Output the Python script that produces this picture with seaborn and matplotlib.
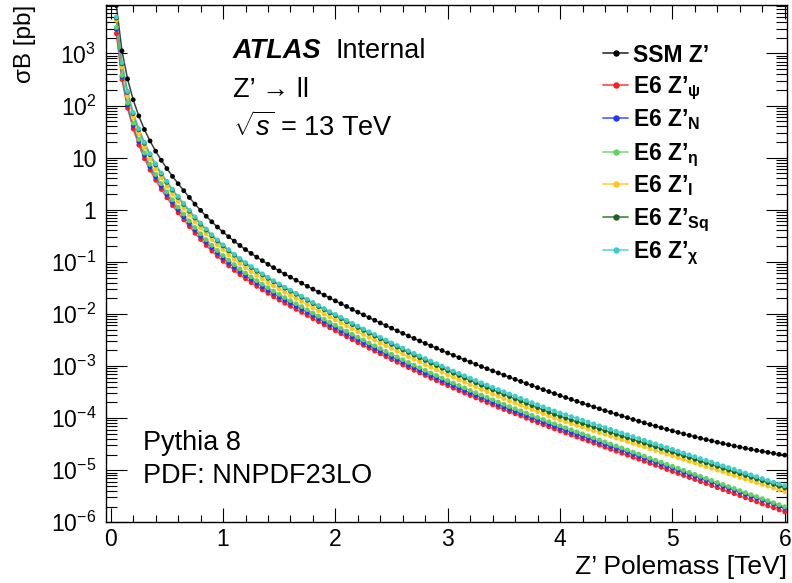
import matplotlib
matplotlib.use("Agg")
import matplotlib.pyplot as plt
import pandas as pd
import seaborn as sns
from matplotlib.lines import Line2D
from matplotlib.ticker import FixedLocator, MultipleLocator, LogLocator, NullFormatter

# Z' pole mass grid [TeV]
mass_tev = [
    0.05, 0.10, 0.15, 0.20, 0.25, 0.30, 0.35, 0.40, 0.45, 0.50,
    0.55, 0.60, 0.65, 0.70, 0.75, 0.80, 0.85, 0.90, 0.95, 1.00,
    1.05, 1.10, 1.15, 1.20, 1.25, 1.30, 1.35, 1.40, 1.45, 1.50,
    1.55, 1.60, 1.65, 1.70, 1.75, 1.80, 1.85, 1.90, 1.95, 2.00,
    2.05, 2.10, 2.15, 2.20, 2.25, 2.30, 2.35, 2.40, 2.45, 2.50,
    2.55, 2.60, 2.65, 2.70, 2.75, 2.80, 2.85, 2.90, 2.95, 3.00,
    3.05, 3.10, 3.15, 3.20, 3.25, 3.30, 3.35, 3.40, 3.45, 3.50,
    3.55, 3.60, 3.65, 3.70, 3.75, 3.80, 3.85, 3.90, 3.95, 4.00,
    4.05, 4.10, 4.15, 4.20, 4.25, 4.30, 4.35, 4.40, 4.45, 4.50,
    4.55, 4.60, 4.65, 4.70, 4.75, 4.80, 4.85, 4.90, 4.95, 5.00,
    5.05, 5.10, 5.15, 5.20, 5.25, 5.30, 5.35, 5.40, 5.45, 5.50,
    5.55, 5.60, 5.65, 5.70, 5.75, 5.80, 5.85, 5.90, 5.95, 6.00,
]

# sigma x B(Z' -> ll) [pb]
sigma_ssm = [
    8.32e3, 1.12e3, 324, 129, 63.1, 34.7, 20.9, 13.3, 8.91, 6.17,
    4.37, 3.16, 2.32, 1.72, 1.28, 0.973, 0.750, 0.586, 0.465, 0.373,
    0.303, 0.249, 0.206, 0.172, 0.145, 0.123, 0.105, 0.0897, 0.0773, 0.0668,
    0.0581, 0.0507, 0.0444, 0.0389, 0.0340, 0.0299, 0.0262, 0.0230, 0.0202, 0.0178,
    0.0157, 0.0139, 0.0122, 0.0108, 9.59e-3, 8.51e-3, 7.55e-3, 6.71e-3, 5.97e-3, 5.32e-3,
    4.74e-3, 4.24e-3, 3.78e-3, 3.39e-3, 3.03e-3, 2.72e-3, 2.44e-3, 2.20e-3, 1.98e-3, 1.78e-3,
    1.61e-3, 1.45e-3, 1.31e-3, 1.19e-3, 1.08e-3, 9.77e-4, 8.87e-4, 8.07e-4, 7.35e-4, 6.68e-4,
    6.08e-4, 5.55e-4, 5.06e-4, 4.61e-4, 4.22e-4, 3.85e-4, 3.52e-4, 3.23e-4, 2.96e-4, 2.71e-4,
    2.49e-4, 2.29e-4, 2.10e-4, 1.93e-4, 1.78e-4, 1.64e-4, 1.51e-4, 1.39e-4, 1.29e-4, 1.19e-4,
    1.10e-4, 1.02e-4, 9.42e-5, 8.73e-5, 8.11e-5, 7.53e-5, 7.02e-5, 6.53e-5, 6.10e-5, 5.69e-5,
    5.32e-5, 4.98e-5, 4.67e-5, 4.38e-5, 4.11e-5, 3.87e-5, 3.65e-5, 3.44e-5, 3.26e-5, 3.08e-5,
    2.92e-5, 2.78e-5, 2.64e-5, 2.52e-5, 2.40e-5, 2.30e-5, 2.20e-5, 2.11e-5, 2.02e-5, 1.95e-5,
]

sigma_psi = [
    2.40e3, 316, 88.9, 35.5, 17.4, 9.54, 5.77, 3.68, 2.45, 1.70,
    1.20, 0.869, 0.639, 0.473, 0.353, 0.268, 0.206, 0.161, 0.128, 0.102,
    0.0838, 0.0685, 0.0568, 0.0474, 0.0399, 0.0338, 0.0289, 0.0248, 0.0213, 0.0184,
    0.0160, 0.0140, 0.0122, 0.0107, 9.32e-3, 8.09e-3, 7.08e-3, 6.19e-3, 5.40e-3, 4.74e-3,
    4.16e-3, 3.65e-3, 3.20e-3, 2.81e-3, 2.49e-3, 2.19e-3, 1.93e-3, 1.71e-3, 1.51e-3, 1.33e-3,
    1.18e-3, 1.05e-3, 9.29e-4, 8.26e-4, 7.38e-4, 6.57e-4, 5.84e-4, 5.22e-4, 4.66e-4, 4.18e-4,
    3.75e-4, 3.36e-4, 3.02e-4, 2.71e-4, 2.44e-4, 2.20e-4, 1.99e-4, 1.79e-4, 1.61e-4, 1.46e-4,
    1.32e-4, 1.21e-4, 1.10e-4, 9.93e-5, 8.97e-5, 8.18e-5, 7.48e-5, 6.79e-5, 6.19e-5, 5.66e-5,
    5.18e-5, 4.73e-5, 4.33e-5, 3.96e-5, 3.62e-5, 3.31e-5, 3.03e-5, 2.76e-5, 2.52e-5, 2.31e-5,
    2.12e-5, 1.94e-5, 1.77e-5, 1.62e-5, 1.48e-5, 1.35e-5, 1.24e-5, 1.14e-5, 1.03e-5, 9.45e-6,
    8.65e-6, 7.90e-6, 7.23e-6, 6.62e-6, 6.05e-6, 5.53e-6, 5.06e-6, 4.62e-6, 4.22e-6, 3.86e-6,
    3.54e-6, 3.23e-6, 2.95e-6, 2.70e-6, 2.47e-6, 2.25e-6, 2.07e-6, 1.89e-6, 1.73e-6, 1.58e-6,
]

sigma_n = [
    2.88e3, 355, 102, 40.7, 20.0, 11.0, 6.62, 4.22, 2.82, 1.95,
    1.38, 0.998, 0.734, 0.544, 0.405, 0.307, 0.237, 0.185, 0.147, 0.118,
    0.0962, 0.0787, 0.0652, 0.0544, 0.0458, 0.0388, 0.0331, 0.0284, 0.0244, 0.0211,
    0.0184, 0.0160, 0.0140, 0.0123, 0.0107, 9.27e-3, 8.09e-3, 7.06e-3, 6.15e-3, 5.40e-3,
    4.72e-3, 4.14e-3, 3.63e-3, 3.18e-3, 2.81e-3, 2.47e-3, 2.17e-3, 1.92e-3, 1.70e-3, 1.50e-3,
    1.33e-3, 1.18e-3, 1.04e-3, 9.27e-4, 8.29e-4, 7.37e-4, 6.55e-4, 5.85e-4, 5.23e-4, 4.69e-4,
    4.21e-4, 3.77e-4, 3.39e-4, 3.04e-4, 2.74e-4, 2.47e-4, 2.23e-4, 2.00e-4, 1.81e-4, 1.64e-4,
    1.48e-4, 1.35e-4, 1.23e-4, 1.11e-4, 1.01e-4, 9.18e-5, 8.39e-5, 7.62e-5, 6.95e-5, 6.35e-5,
    5.82e-5, 5.32e-5, 4.87e-5, 4.47e-5, 4.09e-5, 3.74e-5, 3.42e-5, 3.13e-5, 2.86e-5, 2.62e-5,
    2.41e-5, 2.21e-5, 2.02e-5, 1.85e-5, 1.69e-5, 1.54e-5, 1.42e-5, 1.30e-5, 1.18e-5, 1.09e-5,
    9.95e-6, 9.09e-6, 8.33e-6, 7.64e-6, 6.99e-6, 6.40e-6, 5.85e-6, 5.35e-6, 4.90e-6, 4.48e-6,
    4.12e-6, 3.76e-6, 3.44e-6, 3.15e-6, 2.89e-6, 2.64e-6, 2.43e-6, 2.22e-6, 2.03e-6, 1.86e-6,
]

sigma_eta = [
    3.16e3, 380, 112, 45.7, 22.4, 12.3, 7.43, 4.74, 3.16, 2.19,
    1.55, 1.12, 0.824, 0.610, 0.455, 0.345, 0.266, 0.208, 0.165, 0.132,
    0.108, 0.0883, 0.0732, 0.0611, 0.0514, 0.0435, 0.0372, 0.0319, 0.0274, 0.0237,
    0.0206, 0.0180, 0.0157, 0.0138, 0.0120, 0.0104, 9.08e-3, 7.92e-3, 6.90e-3, 6.06e-3,
    5.30e-3, 4.65e-3, 4.07e-3, 3.57e-3, 3.15e-3, 2.77e-3, 2.44e-3, 2.16e-3, 1.91e-3, 1.68e-3,
    1.49e-3, 1.32e-3, 1.17e-3, 1.04e-3, 9.30e-4, 8.27e-4, 7.35e-4, 6.57e-4, 5.87e-4, 5.26e-4,
    4.72e-4, 4.23e-4, 3.80e-4, 3.41e-4, 3.07e-4, 2.77e-4, 2.50e-4, 2.25e-4, 2.03e-4, 1.84e-4,
    1.66e-4, 1.52e-4, 1.38e-4, 1.25e-4, 1.13e-4, 1.03e-4, 9.42e-5, 8.55e-5, 7.80e-5, 7.13e-5,
    6.52e-5, 5.96e-5, 5.45e-5, 4.99e-5, 4.56e-5, 4.17e-5, 3.81e-5, 3.48e-5, 3.18e-5, 2.91e-5,
    2.67e-5, 2.44e-5, 2.23e-5, 2.04e-5, 1.86e-5, 1.70e-5, 1.56e-5, 1.43e-5, 1.30e-5, 1.19e-5,
    1.09e-5, 9.95e-6, 9.10e-6, 8.34e-6, 7.62e-6, 6.97e-6, 6.37e-6, 5.82e-6, 5.32e-6, 4.86e-6,
    4.46e-6, 4.07e-6, 3.72e-6, 3.40e-6, 3.11e-6, 2.84e-6, 2.61e-6, 2.38e-6, 2.18e-6, 1.99e-6,
]

sigma_i = [
    4.36e3, 550, 151, 58.9, 28.9, 15.8, 9.57, 6.10, 4.08, 2.82,
    1.99, 1.45, 1.06, 0.786, 0.586, 0.445, 0.343, 0.268, 0.212, 0.170,
    0.136, 0.111, 0.0921, 0.0769, 0.0647, 0.0548, 0.0468, 0.0401, 0.0345, 0.0299,
    0.0260, 0.0226, 0.0198, 0.0174, 0.0151, 0.0131, 0.0115, 0.0100, 8.75e-3, 7.69e-3,
    6.74e-3, 5.91e-3, 5.19e-3, 4.56e-3, 4.02e-3, 3.55e-3, 3.14e-3, 2.77e-3, 2.45e-3, 2.17e-3,
    1.92e-3, 1.70e-3, 1.51e-3, 1.35e-3, 1.20e-3, 1.06e-3, 9.47e-4, 8.46e-4, 7.57e-4, 6.78e-4,
    6.07e-4, 5.44e-4, 4.89e-4, 4.40e-4, 3.95e-4, 3.56e-4, 3.22e-4, 2.90e-4, 2.62e-4, 2.37e-4,
    2.15e-4, 1.95e-4, 1.77e-4, 1.61e-4, 1.46e-4, 1.33e-4, 1.21e-4, 1.10e-4, 1.00e-4, 9.19e-5,
    8.49e-5, 7.83e-5, 7.24e-5, 6.70e-5, 6.18e-5, 5.71e-5, 5.28e-5, 4.88e-5, 4.51e-5, 4.16e-5,
    3.85e-5, 3.56e-5, 3.28e-5, 3.03e-5, 2.81e-5, 2.59e-5, 2.39e-5, 2.21e-5, 2.04e-5, 1.89e-5,
    1.74e-5, 1.61e-5, 1.49e-5, 1.38e-5, 1.27e-5, 1.17e-5, 1.09e-5, 1.00e-5, 9.28e-6, 8.51e-6,
    7.91e-6, 7.31e-6, 6.75e-6, 6.24e-6, 5.77e-6, 5.32e-6, 4.92e-6, 4.55e-6, 4.20e-6, 3.88e-6,
]

sigma_sq = [
    4.78e3, 631, 178, 70.0, 34.3, 18.8, 11.4, 7.25, 4.84, 3.35,
    2.37, 1.72, 1.26, 0.933, 0.696, 0.528, 0.408, 0.318, 0.252, 0.202,
    0.163, 0.134, 0.111, 0.0924, 0.0778, 0.0659, 0.0562, 0.0482, 0.0415, 0.0359,
    0.0312, 0.0272, 0.0238, 0.0209, 0.0182, 0.0158, 0.0138, 0.0121, 0.0105, 9.25e-3,
    8.11e-3, 7.11e-3, 6.24e-3, 5.49e-3, 4.83e-3, 4.26e-3, 3.77e-3, 3.33e-3, 2.95e-3, 2.60e-3,
    2.31e-3, 2.04e-3, 1.82e-3, 1.62e-3, 1.44e-3, 1.28e-3, 1.14e-3, 1.02e-3, 9.09e-4, 8.14e-4,
    7.30e-4, 6.55e-4, 5.88e-4, 5.29e-4, 4.75e-4, 4.28e-4, 3.87e-4, 3.49e-4, 3.15e-4, 2.85e-4,
    2.58e-4, 2.34e-4, 2.12e-4, 1.92e-4, 1.73e-4, 1.58e-4, 1.44e-4, 1.30e-4, 1.18e-4, 1.08e-4,
    9.98e-5, 9.20e-5, 8.51e-5, 7.87e-5, 7.26e-5, 6.71e-5, 6.21e-5, 5.73e-5, 5.30e-5, 4.89e-5,
    4.52e-5, 4.18e-5, 3.85e-5, 3.56e-5, 3.30e-5, 3.04e-5, 2.81e-5, 2.60e-5, 2.40e-5, 2.22e-5,
    2.05e-5, 1.89e-5, 1.75e-5, 1.62e-5, 1.49e-5, 1.38e-5, 1.28e-5, 1.18e-5, 1.09e-5, 1.00e-5,
    9.29e-6, 8.59e-6, 7.93e-6, 7.33e-6, 6.78e-6, 6.25e-6, 5.78e-6, 5.35e-6, 4.93e-6, 4.56e-6,
]

sigma_chi = [
    5.01e3, 661, 186, 73.3, 35.9, 19.7, 11.9, 7.59, 5.07, 3.51,
    2.48, 1.80, 1.32, 0.977, 0.729, 0.553, 0.427, 0.333, 0.264, 0.212,
    0.171, 0.140, 0.116, 0.0968, 0.0815, 0.0690, 0.0589, 0.0505, 0.0435, 0.0376,
    0.0327, 0.0285, 0.0249, 0.0219, 0.0191, 0.0166, 0.0145, 0.0127, 0.0111, 9.77e-3,
    8.57e-3, 7.53e-3, 6.62e-3, 5.83e-3, 5.14e-3, 4.54e-3, 4.02e-3, 3.56e-3, 3.15e-3, 2.79e-3,
    2.48e-3, 2.20e-3, 1.96e-3, 1.75e-3, 1.56e-3, 1.39e-3, 1.24e-3, 1.11e-3, 9.95e-4, 8.93e-4,
    8.02e-4, 7.21e-4, 6.49e-4, 5.85e-4, 5.27e-4, 4.76e-4, 4.31e-4, 3.90e-4, 3.53e-4, 3.20e-4,
    2.90e-4, 2.64e-4, 2.40e-4, 2.18e-4, 1.98e-4, 1.81e-4, 1.65e-4, 1.50e-4, 1.37e-4, 1.25e-4,
    1.16e-4, 1.07e-4, 9.84e-5, 9.08e-5, 8.38e-5, 7.73e-5, 7.13e-5, 6.58e-5, 6.07e-5, 5.60e-5,
    5.18e-5, 4.78e-5, 4.41e-5, 4.06e-5, 3.75e-5, 3.46e-5, 3.19e-5, 2.94e-5, 2.72e-5, 2.51e-5,
    2.31e-5, 2.13e-5, 1.97e-5, 1.82e-5, 1.67e-5, 1.55e-5, 1.43e-5, 1.32e-5, 1.21e-5, 1.12e-5,
    1.04e-5, 9.55e-6, 8.81e-6, 8.13e-6, 7.50e-6, 6.92e-6, 6.38e-6, 5.89e-6, 5.43e-6, 5.01e-6,
]

models = ["SSM", "psi", "N", "eta", "I", "Sq", "chi"]
legend_labels = [
    "SSM Z\u2019",
    "E6 Z\u2019$_{\\mathregular{\u03c8}}$",
    "E6 Z\u2019$_{\\mathbf{N}}$",
    "E6 Z\u2019$_{\\mathregular{\u03b7}}$",
    "E6 Z\u2019$_{\\mathbf{I}}$",
    "E6 Z\u2019$_{\\mathbf{Sq}}$",
    "E6 Z\u2019$_{\\mathregular{\u03c7}}$",
]
colors = ["#000000", "#ff1c1c", "#2238f2", "#5fd35f", "#ffc61a", "#1c641c", "#3ccdcd"]
x_ticks = [0, 1, 2, 3, 4, 5, 6]
y_ticks = [1e-6, 1e-5, 1e-4, 1e-3, 1e-2, 1e-1, 1, 10, 1e2, 1e3]
y_tick_labels = [r"$\mathregular{10^{-6}}$", r"$\mathregular{10^{-5}}$", r"$\mathregular{10^{-4}}$",
                 r"$\mathregular{10^{-3}}$", r"$\mathregular{10^{-2}}$", r"$\mathregular{10^{-1}}$",
                 "1", "10", r"$\mathregular{10^{2}}$", r"$\mathregular{10^{3}}$"]

series = [sigma_ssm, sigma_psi, sigma_n, sigma_eta, sigma_i, sigma_sq, sigma_chi]
df = pd.concat(
    [pd.DataFrame({"mass": mass_tev, "xsec": vals, "model": name})
     for name, vals in zip(models, series)],
    ignore_index=True,
)

sns.set_style("ticks")
plt.rcParams["font.family"] = ["Liberation Sans", "DejaVu Sans"]
plt.rcParams["mathtext.fontset"] = "custom"
plt.rcParams["mathtext.rm"] = "Liberation Sans"
plt.rcParams["mathtext.it"] = "Liberation Sans:italic"
plt.rcParams["mathtext.bf"] = "Liberation Sans:bold"
for key in ["text.color", "axes.labelcolor", "xtick.color", "ytick.color",
            "xtick.labelcolor", "ytick.labelcolor", "axes.edgecolor"]:
    plt.rcParams[key] = "black"

W, H = 792, 583
fig = plt.figure(figsize=(W / 100, H / 100), dpi=100)
ax_l, ax_r, ax_t, ax_b = 106, 787, 4.5, 522.3
ax = fig.add_axes([ax_l / W, 1 - ax_b / H, (ax_r - ax_l) / W, (ax_b - ax_t) / H])

palette = dict(zip(models, colors))
sns.lineplot(data=df, x="mass", y="xsec", hue="model", hue_order=models, palette=palette,
             estimator=None, sort=False, linewidth=1.1, alpha=0.75, legend=False, ax=ax)
sns.scatterplot(data=df, x="mass", y="xsec", hue="model", hue_order=models, palette=palette,
                s=12, linewidth=0, legend=False, ax=ax, zorder=3)

ax.set_yscale("log")
ax.set_xlim(-0.042, 6.02)
ax.set_ylim(1e-6, 8.7e3)

ax.xaxis.set_major_locator(FixedLocator(x_ticks))
ax.xaxis.set_minor_locator(MultipleLocator(0.2))
ax.set_xticklabels([str(t) for t in x_ticks])
ax.yaxis.set_major_locator(FixedLocator(y_ticks))
ax.yaxis.set_minor_locator(LogLocator(base=10, subs=[2, 3, 4, 5, 6, 7, 8, 9], numticks=100))
ax.yaxis.set_minor_formatter(NullFormatter())
ax.set_yticklabels(y_tick_labels)

ax.tick_params(which="both", direction="in", top=True, right=True, color="black", width=0.8,
               labelcolor="black")
ax.tick_params(axis="x", which="major", length=10, pad=4, labelsize=16.5)
ax.tick_params(axis="x", which="minor", length=5)
ax.tick_params(axis="y", which="major", length=15, pad=7, labelsize=16.5)
ax.tick_params(axis="y", which="minor", length=8)
for sp in ax.spines.values():
    sp.set_linewidth(1.0)
    sp.set_color("black")

ax.set_xlabel("Z\u2019 Polemass [TeV]", fontsize=19, ha="right", va="baseline", color="black")
ax.xaxis.set_label_coords(1.0, (H - 574 - (H - ax_b)) / (ax_b - ax_t))
ax.set_ylabel("\u03c3B [pb]", fontsize=17.5, ha="right", va="center", rotation_mode="anchor",
              color="black")
ax.yaxis.set_label_coords((25 - ax_l) / (ax_r - ax_l), 1.0)


def fpos(px, py):
    return px / W, 1 - py / H


fs_txt = 19.5
fig.text(*fpos(233, 58), "ATLAS", fontsize=fs_txt, fontweight="bold", fontstyle="italic", va="baseline")
fig.text(*fpos(335, 58), "Internal", fontsize=fs_txt, va="baseline")
fig.text(*fpos(233, 97), "Z\u2019 \u2192 ll", fontsize=fs_txt, va="baseline")
fig.text(*fpos(233, 136), r"$\sqrt{s}$ = 13 TeV", fontsize=fs_txt, va="baseline")
fig.text(*fpos(143, 450), "Pythia 8", fontsize=fs_txt, va="baseline")
fig.text(*fpos(143, 483), "PDF: NNPDF23LO", fontsize=fs_txt, va="baseline")

# legend rows
row_y = [53.3, 85, 118.3, 151.7, 184, 217.3, 250]
for lab, col, yy in zip(legend_labels, colors, row_y):
    x0, y0 = fpos(603, yy)
    x1, _ = fpos(628, yy)
    xm, _ = fpos(615.5, yy)
    fig.add_artist(Line2D([x0, x1], [y0, y0], transform=fig.transFigure,
                          color=col, lw=1.3, alpha=0.75))
    fig.add_artist(Line2D([xm], [y0], transform=fig.transFigure, marker="o",
                          ms=3.6, color=col, mec=col, lw=0))
    fig.text(*fpos(633, yy + 8.2), lab, fontsize=16.5, fontweight="bold", va="baseline")

fig.savefig("out.png", dpi=100)
